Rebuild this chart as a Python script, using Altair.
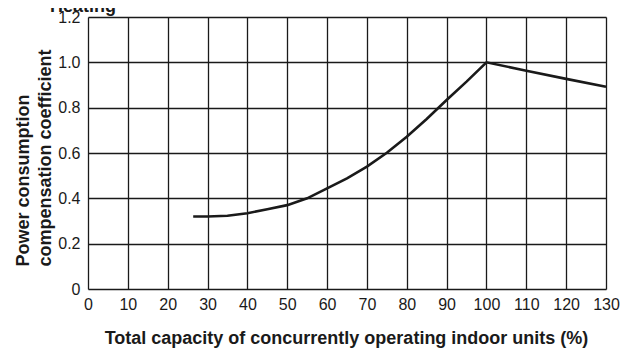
import altair as alt
import pandas as pd

capacity = [26.4, 30, 35, 40, 45, 50, 55, 60, 65, 70, 75, 80, 85, 90, 95, 100, 110, 120, 130]
coefficient = [0.32, 0.32, 0.323, 0.334, 0.352, 0.37, 0.40, 0.444, 0.488, 0.54, 0.601, 0.672, 0.75, 0.834, 0.915, 1.0, 0.963, 0.927, 0.892]
x_ticks = list(range(0, 131, 10))
y_ticks = [0, 0.2, 0.4, 0.6, 0.8, 1.0, 1.2]

df = pd.DataFrame({"x": capacity, "y": coefficient})

FONT = "Liberation Sans"
INK = "#1a1a1a"

chart = alt.Chart(df).mark_line(color=INK, strokeWidth=2.6).encode(
    x=alt.X("x:Q",
            scale=alt.Scale(domain=[0, 130], nice=False, zero=False),
            axis=alt.Axis(values=x_ticks, title="Total capacity of concurrently operating indoor units (%)",
                          titleX=258, titleY=54, titleAlign="center", titleBaseline="alphabetic",
                          titleFontSize=18, titleFontWeight="bold", titleFont=FONT, titleColor=INK,
                          labelFontSize=16, labelFont=FONT, labelColor=INK, labelPadding=7,
                          ticks=False, domain=False, grid=True, gridColor=INK, gridWidth=1.3,
                          gridOpacity=1, labelFlush=False)),
    y=alt.Y("y:Q",
            scale=alt.Scale(domain=[0, 1.2], nice=False, zero=False),
            axis=alt.Axis(values=y_ticks,
                          labelExpr="datum.value == 0 ? '0' : format(datum.value, '.1f')",
                          title=["Power consumption", "compensation coefficient"],
                          titleAngle=270, titleAlign="left", titleBaseline="alphabetic",
                          titleX=-60, titleY=249,
                          titleFontSize=18, titleFontWeight="bold", titleFont=FONT, titleColor=INK,
                          titleLineHeight=22,
                          labelFontSize=16, labelFont=FONT, labelColor=INK, labelPadding=8,
                          ticks=False, domain=False, grid=True, gridColor=INK, gridWidth=1.3,
                          gridOpacity=1, labelFlush=False)),
).properties(
    width=518, height=272,
    title=alt.TitleParams("Heating", anchor="start", frame="group", dx=-38, dy=26, offset=5, baseline="alphabetic",
                          fontSize=18, fontWeight="bold", font=FONT, color=INK),
    padding={"left": 80, "top": 9, "right": 19, "bottom": 60},
    autosize=alt.AutoSizeParams(type="none"),
).configure_view(stroke=INK, strokeWidth=2).configure(background="white")

chart.save("out.html", embed_options={"renderer": "svg", "actions": False})
